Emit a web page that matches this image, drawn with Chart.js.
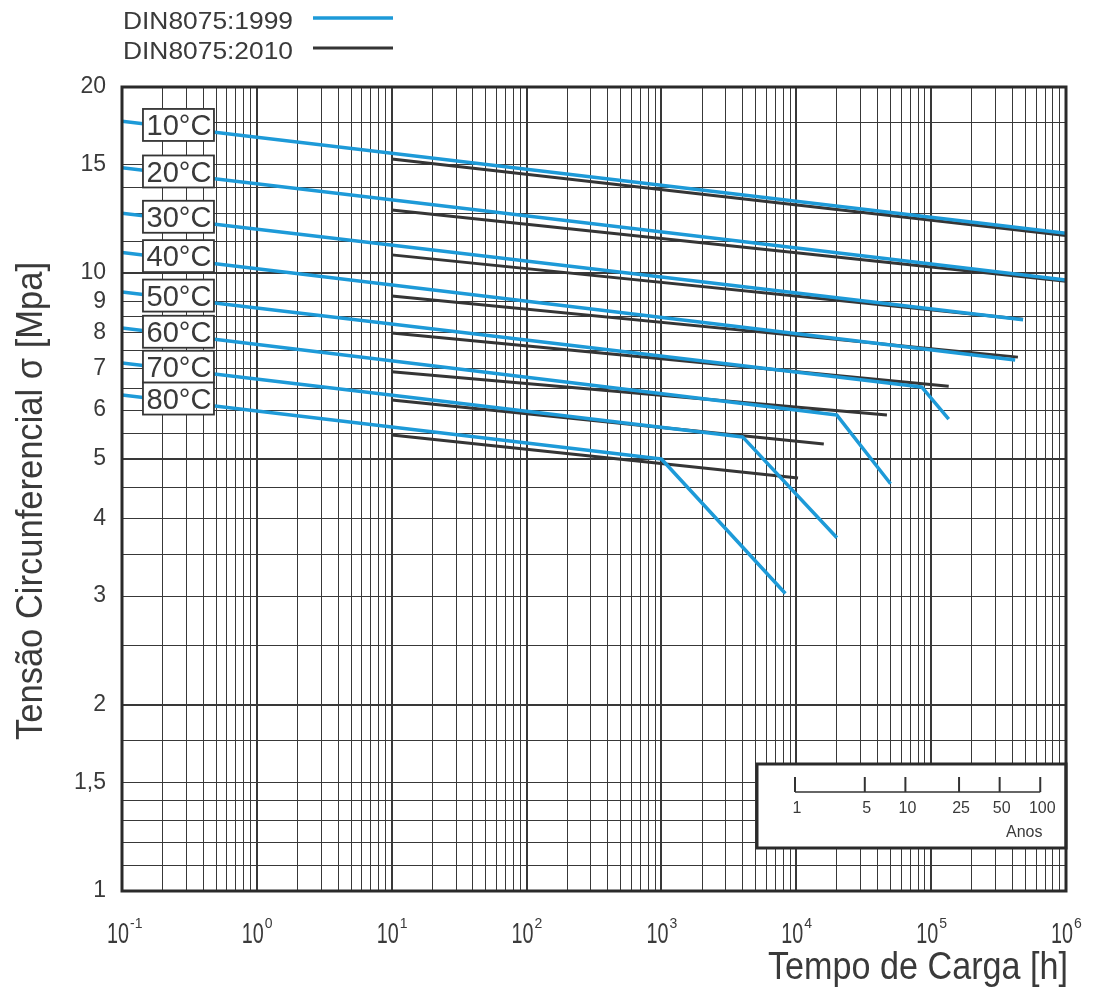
<!DOCTYPE html>
<html>
<head>
<meta charset="utf-8">
<script src="https://cdn.jsdelivr.net/npm/chart.js@4.4.0/dist/chart.umd.min.js"></script>
<style>
  html, body { margin: 0; padding: 0; background: #fff; }
  canvas { display: block; }
</style>
</head>
<body>
<canvas id="chart" width="1094" height="989"></canvas>
<script>
const temperatures = ['10°C', '20°C', '30°C', '40°C', '50°C', '60°C', '70°C', '80°C'];

// DIN 8075:1999 - load time [h] and hoop stress [MPa], with knee for 50..80 °C
const hours1999 = [
  [0.1, 1e6],
  [0.1, 1e6],
  [0.1, 4.8e5],
  [0.1, 4.2e5],
  [0.1, 8.5e4, 1.35e5],
  [0.1, 2e4, 5e4],
  [0.1, 4e3, 2e4],
  [0.1, 1e3, 8.3e3]
];
const stress1999 = [
  [17.6, 11.6],
  [14.8, 9.74],
  [12.5, 8.4],
  [10.8, 7.23],
  [9.32, 6.54, 5.8],
  [8.15, 5.89, 4.56],
  [7.15, 5.43, 3.73],
  [6.35, 5.0, 3.03]
];

// DIN 8075:2010
const hours2010 = [
  [10, 1e6],
  [10, 1e6],
  [10, 4.8e5],
  [10, 4.4e5],
  [10, 1.35e5],
  [10, 4.7e4],
  [10, 1.6e4],
  [10, 1.03e4]
];
const stress2010 = [
  [15.3, 11.5],
  [12.65, 9.7],
  [10.7, 8.42],
  [9.18, 7.31],
  [8.0, 6.56],
  [6.92, 5.89],
  [6.23, 5.29],
  [5.47, 4.66]
];

const xDecades = [-1, 0, 1, 2, 3, 4, 5, 6];
const xSubdivisions = [1, 2, 3, 4, 5, 6, 7, 8, 9];
const yGridValues = [1, 1.1, 1.2, 1.3, 1.4, 1.5, 1.75, 2, 2.5, 3, 3.5, 4, 4.5, 5, 5.5, 6, 6.5, 7, 7.5, 8, 8.5, 9, 10, 11.25, 12.5, 13.75, 15, 17.5, 20];
const yTickLabels = [1, 1.5, 2, 3, 4, 5, 6, 7, 8, 9, 10, 15, 20];
const yThickLines = [2, 5, 10];
const anosTicks = [1, 5, 10, 25, 50, 100];

const BLUE = '#1d9ad8';
const DARK = '#353535';
const GRID = '#383838';
const TEXT = '#3a3a3a';
const FONT = "'Liberation Sans', Arial, sans-serif";
const NARROW = "'Liberation Sans Narrow', 'Liberation Sans', Arial, sans-serif";

const xGridValues = [];
xDecades.forEach(e => {
  xSubdivisions.forEach(m => {
    if (e < 6 || m === 1) xGridValues.push(+(m * Math.pow(10, e)).toPrecision(3));
  });
});

function toPoints(hours, stress) {
  return hours.map((h, i) => ({ x: h, y: stress[i] }));
}

const datasets = [];
temperatures.forEach((t, i) => {
  datasets.push({
    label: 'DIN8075:1999 ' + t,
    data: toPoints(hours1999[i], stress1999[i]),
    borderColor: BLUE,
    borderWidth: 3.5,
    order: 1
  });
});
temperatures.forEach((t, i) => {
  datasets.push({
    label: 'DIN8075:2010 ' + t,
    data: toPoints(hours2010[i], stress2010[i]),
    borderColor: DARK,
    borderWidth: 3,
    order: 2
  });
});

// text squeezed/stretched to a given width
function fitText(ctx, text, x, y, width, align) {
  const w = ctx.measureText(text).width;
  ctx.save();
  ctx.translate(x, y);
  ctx.scale(width / w, 1);
  ctx.textAlign = align || 'left';
  ctx.fillText(text, 0, 0);
  ctx.restore();
}

function isDecade(v) {
  const l = Math.log10(v);
  return Math.abs(l - Math.round(l)) < 1e-9;
}

const decorations = {
  id: 'decorations',
  afterDatasetsDraw(chart) {
    const ctx = chart.ctx;
    const xs = chart.scales.x, ys = chart.scales.y;
    const area = chart.chartArea;

    // temperature tags sitting on the 1999 curves
    const tagX = 0.26;
    ctx.save();
    ctx.font = '30px ' + FONT;
    ctx.textBaseline = 'middle';
    temperatures.forEach((t, i) => {
      const lx0 = Math.log10(hours1999[i][0]), lx1 = Math.log10(hours1999[i][1]);
      const ly0 = Math.log10(stress1999[i][0]), ly1 = Math.log10(stress1999[i][1]);
      const ly = ly0 + (ly1 - ly0) * (Math.log10(tagX) - lx0) / (lx1 - lx0);
      const cx = xs.getPixelForValue(tagX);
      const cy = ys.getPixelForValue(Math.pow(10, ly)) - 3;
      ctx.fillStyle = '#fff';
      ctx.fillRect(cx - 35, cy - 16, 71, 32);
      ctx.strokeStyle = DARK;
      ctx.lineWidth = 1.8;
      ctx.strokeRect(cx - 35, cy - 16, 71, 32);
      ctx.fillStyle = TEXT;
      fitText(ctx, t, cx + 1, cy + 2, 65, 'center');
    });
    ctx.restore();

    // service life inset (years)
    const box = { left: 757, top: 764, right: area.right, bottom: 848 };
    ctx.save();
    ctx.fillStyle = '#fff';
    ctx.fillRect(box.left, box.top, box.right - box.left, box.bottom - box.top);
    ctx.strokeStyle = '#2a2a2a';
    ctx.lineWidth = 3;
    ctx.strokeRect(box.left, box.top, box.right - box.left, box.bottom - box.top);

    const axisY = 792;
    const tickPx = anosTicks.map((yr, i) => i === 0 ? box.left + 38 : xs.getPixelForValue(yr * 8760) - 18);
    ctx.strokeStyle = '#333';
    ctx.lineWidth = 1.5;
    ctx.beginPath();
    ctx.moveTo(tickPx[0], axisY);
    ctx.lineTo(tickPx[tickPx.length - 1], axisY);
    ctx.stroke();
    ctx.lineWidth = 2;
    ctx.fillStyle = TEXT;
    ctx.font = '16px ' + FONT;
    ctx.textAlign = 'center';
    ctx.textBaseline = 'middle';
    tickPx.forEach((px, i) => {
      ctx.beginPath();
      ctx.moveTo(px, axisY - 15);
      ctx.lineTo(px, axisY);
      ctx.stroke();
      ctx.fillText(String(anosTicks[i]), px + 2, axisY + 17);
    });
    ctx.fillText('Anos', tickPx[tickPx.length - 1] - 16, axisY + 41);
    ctx.restore();

    // plot frame
    ctx.save();
    ctx.strokeStyle = '#2a2a2a';
    ctx.lineWidth = 3;
    ctx.strokeRect(area.left, area.top, area.right - area.left, area.bottom - area.top);
    ctx.restore();
  },
  afterDraw(chart) {
    const ctx = chart.ctx;
    const xs = chart.scales.x;
    const area = chart.chartArea;
    ctx.save();
    ctx.fillStyle = TEXT;
    ctx.textBaseline = 'alphabetic';

    // x tick labels 10^n
    xDecades.forEach(e => {
      const px = xs.getPixelForValue(Math.pow(10, e));
      ctx.font = '29px ' + NARROW;
      fitText(ctx, '10', px - 4, area.bottom + 52, 22, 'center');
      ctx.font = '14px ' + NARROW;
      ctx.textAlign = 'left';
      ctx.fillText(String(e), px + 8, area.bottom + 37);
    });

    // axis titles
    ctx.font = '38px ' + NARROW;
    fitText(ctx, 'Tempo de Carga [h]', area.right + 2, 979, 300, 'right');

    ctx.save();
    ctx.translate(42, 501);
    ctx.rotate(-Math.PI / 2);
    ctx.font = '36px ' + NARROW;
    fitText(ctx, 'Tensão Circunferencial σ [Mpa]', 0, 0, 478, 'center');
    ctx.restore();

    // legend
    const legend = [['DIN8075:1999', BLUE, 3.5], ['DIN8075:2010', DARK, 3]];
    legend.forEach(([text, color, w], i) => {
      const y = 20 + i * 30;
      ctx.font = '24px ' + FONT;
      ctx.fillStyle = TEXT;
      fitText(ctx, text, 123, y + 8.5, 170, 'left');
      ctx.strokeStyle = color;
      ctx.lineWidth = w;
      ctx.beginPath();
      ctx.moveTo(313, y - 2);
      ctx.lineTo(393, y - 2);
      ctx.stroke();
    });
    ctx.restore();
  }
};

new Chart(document.getElementById('chart'), {
  type: 'line',
  data: { datasets: datasets },
  plugins: [decorations],
  options: {
    responsive: false,
    animation: false,
    events: [],
    layout: { padding: { top: 87, right: 28, left: 0, bottom: 0 } },
    elements: {
      point: { radius: 0 },
      line: { tension: 0, borderCapStyle: 'butt', borderJoinStyle: 'round' }
    },
    plugins: {
      legend: { display: false },
      tooltip: { enabled: false }
    },
    scales: {
      x: {
        type: 'logarithmic',
        min: 0.1,
        max: 1e6,
        afterBuildTicks: s => { s.ticks = xGridValues.map(v => ({ value: v })); },
        afterFit: s => { s.height = 98; },
        ticks: { display: false, autoSkip: false },
        border: { display: false },
        grid: {
          color: GRID,
          drawTicks: false,
          lineWidth: c => (c.tick && isDecade(c.tick.value)) ? 2 : 1
        }
      },
      y: {
        type: 'logarithmic',
        min: 1,
        max: 20,
        afterBuildTicks: s => { s.ticks = yGridValues.map(v => ({ value: v })); },
        afterFit: s => { s.width = 122; },
        border: { display: false },
        ticks: {
          autoSkip: false,
          padding: 16,
          color: TEXT,
          font: { family: FONT, size: 23 },
          callback: v => yTickLabels.includes(v) ? String(v).replace('.', ',') : ''
        },
        grid: {
          color: GRID,
          drawTicks: false,
          lineWidth: c => (c.tick && yThickLines.includes(c.tick.value)) ? 2 : 1
        }
      }
    }
  }
});
</script>
</body>
</html>
